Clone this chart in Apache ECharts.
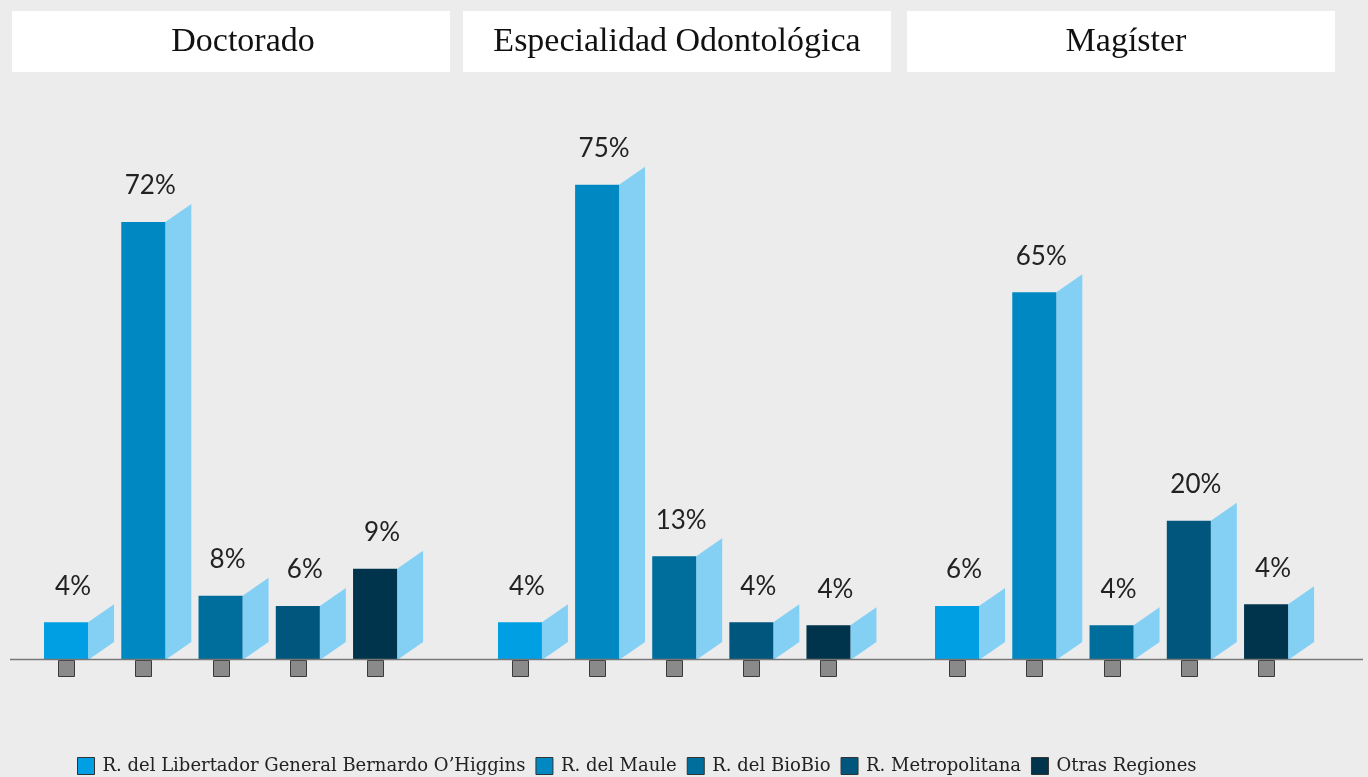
<!DOCTYPE html>
<html>
<head>
<meta charset="utf-8">
<title>Región de origen por programa</title>
<script src="https://cdn.jsdelivr.net/npm/echarts@6/dist/echarts.min.js"></script>
<style>
  html, body { margin: 0; padding: 0; background: #ececec; }
  #main { width: 1368px; height: 777px; }
</style>
</head>
<body>
<div id="main"></div>
<script>
var programas = ['Doctorado', 'Especialidad Odontológica', 'Magíster'];
var regiones = ['R. del Libertador General Bernardo O’Higgins', 'R. del Maule', 'R. del BioBio', 'R. Metropolitana', 'Otras Regiones'];

// rótulos tal como aparecen sobre cada barra
var doctoradoLabels = ['4%', '72%', '8%', '6%', '9%'];
var especialidadLabels = ['4%', '75%', '13%', '4%', '4%'];
var magisterLabels = ['6%', '65%', '4%', '20%', '4%'];

// altura dibujada de cada barra (en el original no es proporcional al rótulo)
var doctoradoAltura = [6.3, 73, 10.7, 9, 15.2];
var especialidadAltura = [6.3, 79.2, 17.3, 6.3, 5.8];
var magisterAltura = [9, 61.3, 5.8, 23.2, 9.3];

var colores = ['#009fe3', '#0088c3', '#006e9d', '#00567c', '#00344d'];
var lado = '#84d0f5';

var alturas = [doctoradoAltura, especialidadAltura, magisterAltura];
var labels = [doctoradoLabels, especialidadLabels, magisterLabels];

// posición horizontal de cada panel
var paneles = [
    { left: 27.4, width: 386.3, box: [12, 438], textX: 243 },
    { left: 481.4, width: 385.6, box: [463, 428], textX: 677 },
    { left: 918.4, width: 386.3, box: [907, 428], textX: 1126 }
];

function makeRender(lbls) {
    return function(params, api) {
        var i = api.value(0);
        var base = api.coord([i, 0]);
        var top = api.coord([i, api.value(1)]);
        var band = api.size([1, 0])[0];
        var w = band * 0.57;
        var x0 = base[0] - w / 2;
        var x1 = x0 + w;
        return {
            type: 'group',
            children: [
                {
                    type: 'polygon',
                    shape: { points: [[x1, base[1]], [x1, top[1]], [x1 + 26, top[1] - 18], [x1 + 26, base[1] - 18]] },
                    style: { fill: lado }
                },
                {
                    type: 'rect',
                    shape: { x: x0, y: top[1], width: w, height: base[1] - top[1] },
                    style: { fill: api.visual('color') }
                },
                {
                    type: 'rect',
                    shape: { x: Math.round(base[0] - 8) + 0.5, y: base[1] + 0.5, width: 16, height: 16 },
                    style: { fill: '#8a8a8a', stroke: '#3a3a3a', lineWidth: 1 }
                },
                {
                    type: 'text',
                    x: base[0] + 7,
                    y: top[1] - 36,
                    style: {
                        text: lbls[i],
                        fill: '#222',
                        font: '26px Lato',
                        align: 'center',
                        verticalAlign: 'middle'
                    }
                }
            ]
        };
    };
}

var myChart = echarts.init(document.getElementById('main'));

var grids = [], xAxes = [], yAxes = [], series = [], graphics = [];

paneles.forEach(function(p, g) {
    grids.push({ left: p.left, width: p.width, top: 60, bottom: 117 });
    xAxes.push({ type: 'category', gridIndex: g, data: regiones, show: false });
    yAxes.push({ type: 'value', gridIndex: g, min: 0, max: 100, show: false });
    var render = makeRender(labels[g]);
    regiones.forEach(function(r, k) {
        series.push({
            type: 'custom',
            name: r,
            xAxisIndex: g,
            yAxisIndex: g,
            itemStyle: { color: colores[k] },
            renderItem: render,
            data: [[k, alturas[g][k]]]
        });
    });
    // caja del título
    graphics.push({
        type: 'rect',
        left: p.box[0], top: 11,
        shape: { width: p.box[1], height: 61 },
        style: { fill: '#fff' },
        z: 1
    });
    graphics.push({
        type: 'text',
        x: p.textX, y: 42,
        style: {
            text: programas[g],
            fill: '#111',
            font: '34px "Liberation Serif"',
            align: 'center',
            verticalAlign: 'middle'
        },
        z: 2
    });
});

// línea base común
graphics.push({
    type: 'line',
    shape: { x1: 10, y1: 659.5, x2: 1363, y2: 659.5 },
    style: { stroke: '#777', lineWidth: 1.5 },
    z: 10
});

var option = {
    backgroundColor: '#ececec',
    animation: false,
    grid: grids,
    xAxis: xAxes,
    yAxis: yAxes,
    legend: {
        data: regiones,
        left: 77,
        top: 757,
        padding: 0,
        icon: 'rect',
        itemWidth: 17,
        itemHeight: 17,
        itemGap: 10,
        itemStyle: { borderColor: '#333', borderWidth: 1 },
        textStyle: {
            fontFamily: 'DejaVu Serif',
            fontSize: 18,
            color: '#222',
            padding: [0, 0, 0, 3]
        }
    },
    graphic: graphics,
    series: series
};

myChart.setOption(option);
</script>
</body>
</html>
